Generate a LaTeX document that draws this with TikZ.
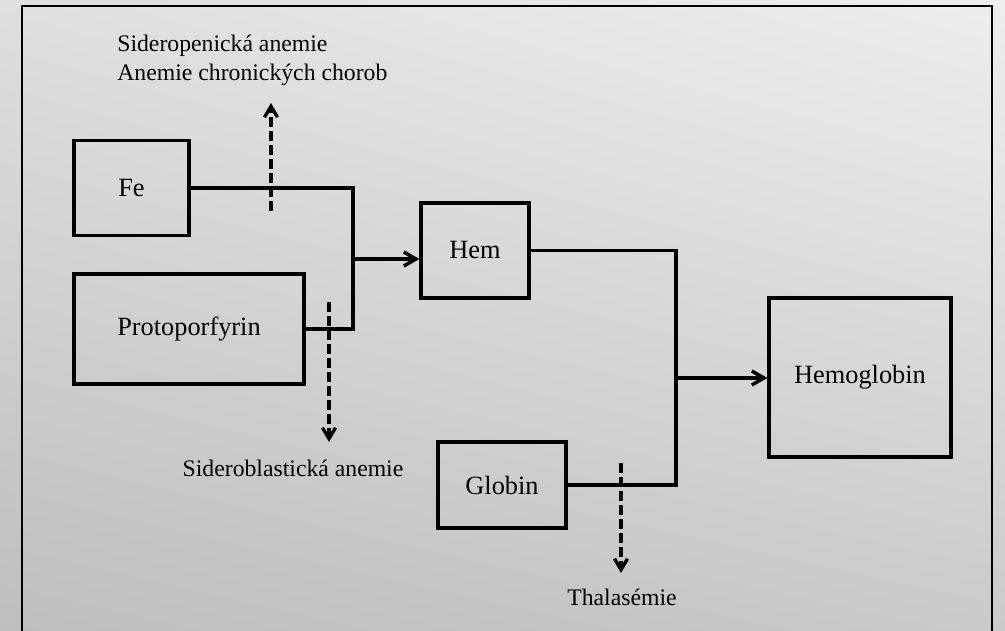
\documentclass[tikz,border=0pt]{standalone}
\usepackage{fontspec}
\setmainfont{Liberation Serif}
\usepackage{tikz}
\usetikzlibrary{
	positioning,
	arrows.meta,
	shadings
}

\definecolor{bgUL}{RGB}{223,223,223}
\definecolor{bgUR}{RGB}{238,238,238}
\definecolor{bgLL}{RGB}{190,190,190}
\definecolor{bgLR}{RGB}{202,202,202}

\tikzset{
	block/.style={draw,line width=1.9pt,inner sep=0pt,font=\fontsize{15}{18}\selectfont},
	note/.style={inner sep=0pt,font=\fontsize{13.5}{16.5}\selectfont},
	merge/.style={line width=2pt,line join=miter},
	flow/.style={line width=2pt,-{Straight Barb[length=2.4mm,width=2.8mm]}},
	cut/.style={line width=1.9pt,dash pattern=on 0.2cm off 0.08cm,-{Straight Barb[length=2.2mm,width=2.6mm]}}
}

\begin{document}
\begin{tikzpicture}[x=0.02cm,y=-0.02cm]
		\useasboundingbox (0,0) rectangle (1005,631);
		\shade[upper left=bgUL,upper right=bgUR,lower left=bgLL,lower right=bgLR]
			(0,0) rectangle (1005,631);
		\draw[line width=1.2pt] (22,631) -- (22,6) -- (992,6) -- (992,631);

		\draw
			node[block,minimum width=2.3cm,minimum height=1.9cm]   (fe)     at (131.5,188) {Fe}
			node[block,minimum width=4.6cm,minimum height=2.2cm]   (proto)  at (189,329)   {Protoporfyrin}
			node[block,minimum width=2.16cm,minimum height=1.9cm]  (hem)    at (475,250.5) {Hem}
			node[block,minimum width=2.56cm,minimum height=1.72cm] (globin) at (502,485)   {Globin}
			node[block,minimum width=3.64cm,minimum height=3.18cm] (hemo)   at (860,377.5) {Hemoglobin}
		;

		\coordinate (j1) at (353,259);
		\coordinate (j2) at (676,378);

		\draw[merge] (fe.east) -| (j1) |- (proto.east);
		\draw[flow] (j1) -- (j1 -| hem.west);
		\draw[merge] (hem.east) -| (j2) |- (globin.east);
		\draw[flow] (j2) -- (j2 -| hemo.west);

		% blocked steps
		\coordinate (c1a) at (271,211);
		\coordinate (c1b) at (271,103);
		\coordinate (c2a) at (329,302);
		\coordinate (c2b) at (329,442);
		\coordinate (c3a) at (621,463);
		\coordinate (c3b) at (621,573);

		\draw[cut] (c1a) -- (c1b);
		\draw[cut] (c2a) -- (c2b);
		\draw[cut] (c3a) -- (c3b);

		\node[note,anchor=west,align=left] (sidero) at (117,60)
			{Sideropenická anemie\\Anemie chronických chorob};
		\node[note] (siderobl) at (293,468) {Sideroblastická anemie};
		\node[note] (thal)     at (622,597) {Thalasémie};
\end{tikzpicture}
\end{document}
